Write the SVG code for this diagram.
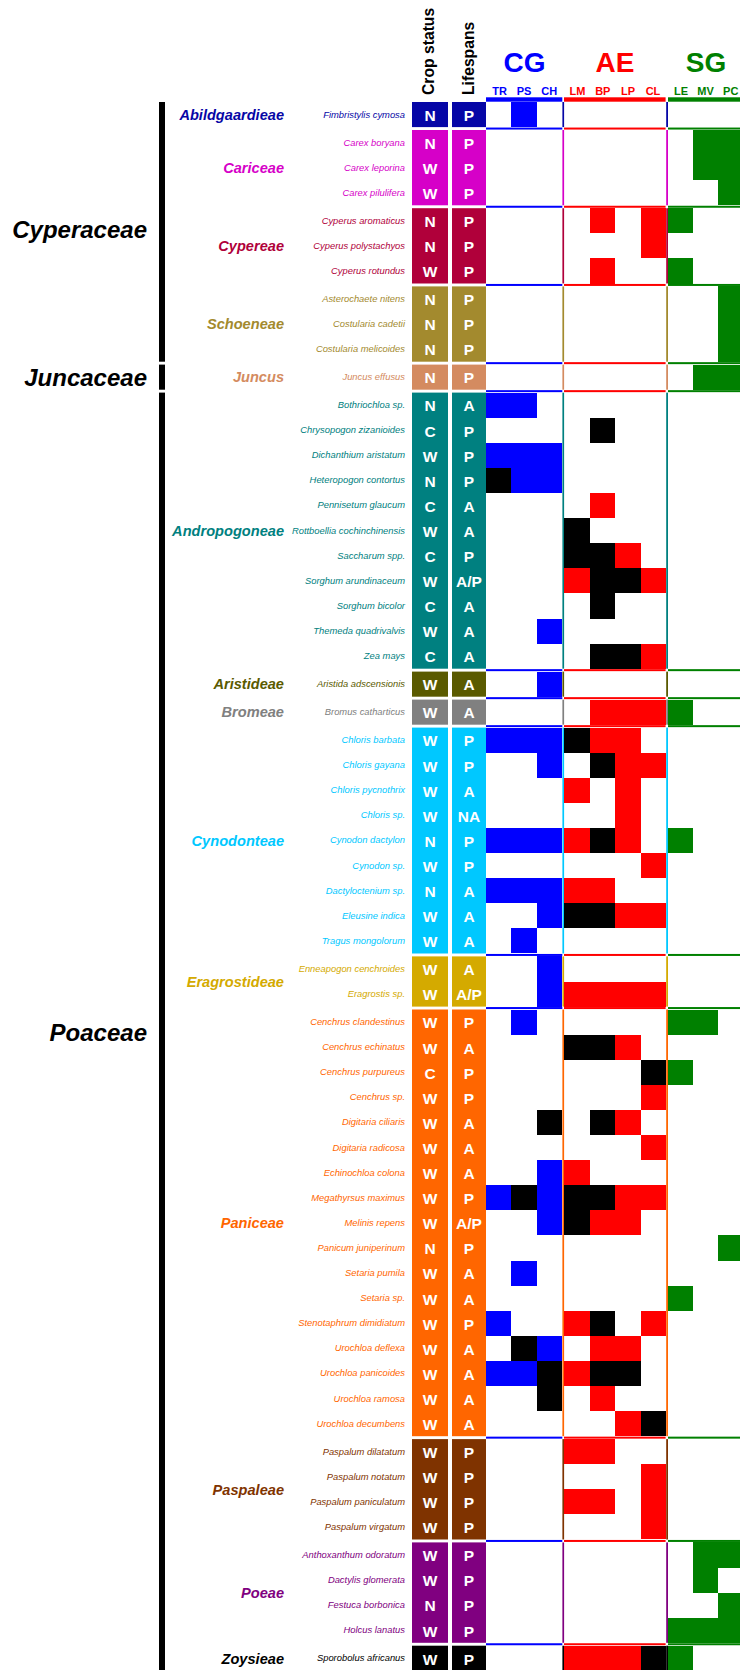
<svg xmlns="http://www.w3.org/2000/svg" width="740" height="1670" viewBox="0 0 740 1670">
<style>
text{font-family:"Liberation Sans",Arial,sans-serif}
.fam{font-size:24px;font-weight:bold;font-style:italic;text-anchor:end;fill:#000}
.tr{font-size:14.6px;font-weight:bold;font-style:italic;text-anchor:end}
.sp{font-size:9.4px;font-style:italic;text-anchor:end}
.lt{font-size:15.5px;font-weight:bold;text-anchor:middle;fill:#fff}
.col{font-size:15.7px;font-weight:bold;fill:#000}
.hd{font-size:28px;font-weight:bold;text-anchor:middle}
.sh{font-size:11px;font-weight:bold;text-anchor:middle}
.b{fill:#0000ff}.r{fill:#ff0000}.k{fill:#000000}.g{fill:#008000}
.b,.r,.k,.g{shape-rendering:crispEdges}
</style>
<defs>
<g id="sep"><rect x="486" y="0" width="76.3" height="2" fill="#0000ff"/><rect x="564" y="0" width="101.6" height="2" fill="#ff0000"/><rect x="668" y="0" width="72" height="2" fill="#008000"/></g>
</defs>
<rect width="740" height="1670" fill="#ffffff"/>

<g id="header">
<text class="col" transform="translate(433.5,95) rotate(-90)">Crop status</text>
<text class="col" transform="translate(473.5,95) rotate(-90)">Lifespans</text>
<text class="hd" x="524.5" y="71.7" fill="#0000ff">CG</text>
<text class="hd" x="615" y="71.7" fill="#ff0000">AE</text>
<text class="hd" x="706" y="71.7" fill="#008000">SG</text>
<g fill="#0000ff"><text class="sh" x="499.5" y="94.8">TR</text><text class="sh" x="524" y="94.8">PS</text><text class="sh" x="549.3" y="94.8">CH</text></g>
<g fill="#ff0000"><text class="sh" x="577.5" y="94.8">LM</text><text class="sh" x="602.8" y="94.8">BP</text><text class="sh" x="628" y="94.8">LP</text><text class="sh" x="653" y="94.8">CL</text></g>
<g fill="#008000"><text class="sh" x="681" y="94.8">LE</text><text class="sh" x="705.5" y="94.8">MV</text><text class="sh" x="730.7" y="94.8">PC</text></g>
<rect x="486" y="97.3" width="76.3" height="4.4" fill="#0000ff"/>
<rect x="564" y="97.3" width="101.6" height="4.4" fill="#ff0000"/>
<rect x="668" y="97.3" width="72" height="4.4" fill="#008000"/>
</g>

<g id="fam-cyperaceae"><rect x="159" y="102" width="6" height="259.7" fill="#000"/><text class="fam" x="147" y="238">Cyperaceae</text></g>
<g id="fam-juncaceae"><rect x="159" y="364.6" width="6" height="25.1" fill="#000"/><text class="fam" x="147" y="386">Juncaceae</text></g>
<g id="fam-poaceae"><rect x="159" y="392.6" width="6" height="1277.4" fill="#000"/><text class="fam" x="147" y="1040.5">Poaceae</text></g>

<g id="abildgaardieae" transform="translate(0,102)" fill="#0606a6">
<rect x="412" y="0" width="36" height="25.1"/><rect x="452" y="0" width="34" height="25.1"/>
<rect x="562.4" y="0" width="1.7" height="25.1"/><rect x="666.2" y="0" width="1.8" height="25.1"/>
<text class="tr" x="284" y="17.85">Abildgaardieae</text>
<text class="sp" x="405" y="15.5">Fimbristylis cymosa</text>
<text class="lt" x="430" y="18.9">N</text><text class="lt" x="469" y="18.9">P</text>
<rect class="b" x="511.3" y="0" width="25.3" height="25.1"/>
</g>

<g id="cariceae" transform="translate(0,130)" fill="#d600c8">
<rect x="412" y="0" width="36" height="75.3"/><rect x="452" y="0" width="34" height="75.3"/>
<rect x="562.4" y="0" width="1.7" height="75.3"/><rect x="666.2" y="0" width="1.8" height="75.3"/>
<text class="tr" x="284" y="42.95">Cariceae</text>
<text class="sp" x="405" y="15.5">Carex boryana</text>
<text class="sp" x="405" y="40.6">Carex leporina</text>
<text class="sp" x="405" y="65.7">Carex pilulifera</text>
<text class="lt" x="430" y="18.9">N</text><text class="lt" x="469" y="18.9">P</text>
<text class="lt" x="430" y="44">W</text><text class="lt" x="469" y="44">P</text>
<text class="lt" x="430" y="69.1">W</text><text class="lt" x="469" y="69.1">P</text>
<rect class="g" x="693" y="0" width="25" height="50.2"/>
<rect class="g" x="718" y="0" width="25" height="75.3"/>
</g>

<g id="cypereae" transform="translate(0,208.2)" fill="#b0003a">
<rect x="412" y="0" width="36" height="75.3"/><rect x="452" y="0" width="34" height="75.3"/>
<rect x="562.4" y="0" width="1.7" height="75.3"/><rect x="666.2" y="0" width="1.8" height="75.3"/>
<text class="tr" x="284" y="42.95">Cypereae</text>
<text class="sp" x="405" y="15.5">Cyperus aromaticus</text>
<text class="sp" x="405" y="40.6">Cyperus polystachyos</text>
<text class="sp" x="405" y="65.7">Cyperus rotundus</text>
<text class="lt" x="430" y="18.9">N</text><text class="lt" x="469" y="18.9">P</text>
<text class="lt" x="430" y="44">N</text><text class="lt" x="469" y="44">P</text>
<text class="lt" x="430" y="69.1">W</text><text class="lt" x="469" y="69.1">P</text>
<rect class="r" x="589.6" y="0" width="25.4" height="25.1"/>
<rect class="r" x="589.6" y="50.2" width="25.4" height="25.1"/>
<rect class="r" x="640.8" y="0" width="25.4" height="50.2"/>
<rect class="g" x="668" y="0" width="25" height="25.1"/>
<rect class="g" x="668" y="50.2" width="25" height="25.1"/>
</g>

<g id="schoeneae" transform="translate(0,286.4)" fill="#a38a2e">
<rect x="412" y="0" width="36" height="75.3"/><rect x="452" y="0" width="34" height="75.3"/>
<rect x="562.4" y="0" width="1.7" height="75.3"/><rect x="666.2" y="0" width="1.8" height="75.3"/>
<text class="tr" x="284" y="42.95">Schoeneae</text>
<text class="sp" x="405" y="15.5">Asterochaete nitens</text>
<text class="sp" x="405" y="40.6">Costularia cadetii</text>
<text class="sp" x="405" y="65.7">Costularia melicoides</text>
<text class="lt" x="430" y="18.9">N</text><text class="lt" x="469" y="18.9">P</text>
<text class="lt" x="430" y="44">N</text><text class="lt" x="469" y="44">P</text>
<text class="lt" x="430" y="69.1">N</text><text class="lt" x="469" y="69.1">P</text>
<rect class="g" x="718" y="0" width="25" height="75.3"/>
</g>

<g id="juncus" transform="translate(0,364.6)" fill="#d48b60">
<rect x="412" y="0" width="36" height="25.1"/><rect x="452" y="0" width="34" height="25.1"/>
<rect x="562.4" y="0" width="1.7" height="25.1"/><rect x="666.2" y="0" width="1.8" height="25.1"/>
<text class="tr" x="284" y="17.85">Juncus</text>
<text class="sp" x="405" y="15.5">Juncus effusus</text>
<text class="lt" x="430" y="18.9">N</text><text class="lt" x="469" y="18.9">P</text>
<rect class="g" x="693" y="0" width="50" height="25.1"/>
</g>

<g id="andropogoneae" transform="translate(0,392.6)" fill="#008080">
<rect x="412" y="0" width="36" height="276.1"/><rect x="452" y="0" width="34" height="276.1"/>
<rect x="562.4" y="0" width="1.7" height="276.1"/><rect x="666.2" y="0" width="1.8" height="276.1"/>
<text class="tr" x="284" y="143.35">Andropogoneae</text>
<text class="sp" x="405" y="15.5">Bothriochloa sp.</text>
<text class="sp" x="405" y="40.6">Chrysopogon zizanioides</text>
<text class="sp" x="405" y="65.7">Dichanthium aristatum</text>
<text class="sp" x="405" y="90.8">Heteropogon contortus</text>
<text class="sp" x="405" y="115.9">Pennisetum glaucum</text>
<text class="sp" x="405" y="141">Rottboellia cochinchinensis</text>
<text class="sp" x="405" y="166.1">Saccharum spp.</text>
<text class="sp" x="405" y="191.2">Sorghum arundinaceum</text>
<text class="sp" x="405" y="216.3">Sorghum bicolor</text>
<text class="sp" x="405" y="241.4">Themeda quadrivalvis</text>
<text class="sp" x="405" y="266.5">Zea mays</text>
<text class="lt" x="430" y="18.9">N</text><text class="lt" x="469" y="18.9">A</text>
<text class="lt" x="430" y="44">C</text><text class="lt" x="469" y="44">P</text>
<text class="lt" x="430" y="69.1">W</text><text class="lt" x="469" y="69.1">P</text>
<text class="lt" x="430" y="94.2">N</text><text class="lt" x="469" y="94.2">P</text>
<text class="lt" x="430" y="119.3">C</text><text class="lt" x="469" y="119.3">A</text>
<text class="lt" x="430" y="144.4">W</text><text class="lt" x="469" y="144.4">A</text>
<text class="lt" x="430" y="169.5">C</text><text class="lt" x="469" y="169.5">P</text>
<text class="lt" x="430" y="194.6">W</text><text class="lt" x="469" y="194.6">A/P</text>
<text class="lt" x="430" y="219.7">C</text><text class="lt" x="469" y="219.7">A</text>
<text class="lt" x="430" y="244.8">W</text><text class="lt" x="469" y="244.8">A</text>
<text class="lt" x="430" y="269.9">C</text><text class="lt" x="469" y="269.9">A</text>
<rect class="b" x="486" y="0" width="50.6" height="25.1"/>
<rect class="k" x="589.6" y="25.1" width="25.4" height="25.1"/>
<rect class="b" x="486" y="50.2" width="76.3" height="25.1"/>
<rect class="k" x="486" y="75.3" width="25.3" height="25.1"/>
<rect class="b" x="511.3" y="75.3" width="51" height="25.1"/>
<rect class="r" x="589.6" y="100.4" width="25.4" height="25.1"/>
<rect class="k" x="564" y="125.5" width="25.6" height="25.1"/>
<rect class="k" x="564" y="150.6" width="51" height="25.1"/>
<rect class="r" x="615" y="150.6" width="25.8" height="25.1"/>
<rect class="r" x="564" y="175.7" width="25.6" height="25.1"/>
<rect class="k" x="589.6" y="175.7" width="51.2" height="25.1"/>
<rect class="r" x="640.8" y="175.7" width="25.4" height="25.1"/>
<rect class="k" x="589.6" y="200.8" width="25.4" height="25.1"/>
<rect class="b" x="536.6" y="225.9" width="25.7" height="25.1"/>
<rect class="k" x="589.6" y="251" width="51.2" height="25.1"/>
<rect class="r" x="640.8" y="251" width="25.4" height="25.1"/>
</g>

<g id="aristideae" transform="translate(0,671.6)" fill="#5a5a00">
<rect x="412" y="0" width="36" height="25.1"/><rect x="452" y="0" width="34" height="25.1"/>
<rect x="562.4" y="0" width="1.7" height="25.1"/><rect x="666.2" y="0" width="1.8" height="25.1"/>
<text class="tr" x="284" y="17.85">Aristideae</text>
<text class="sp" x="405" y="15.5">Aristida adscensionis</text>
<text class="lt" x="430" y="18.9">W</text><text class="lt" x="469" y="18.9">A</text>
<rect class="b" x="536.6" y="0" width="25.7" height="25.1"/>
</g>

<g id="bromeae" transform="translate(0,699.6)" fill="#808080">
<rect x="412" y="0" width="36" height="25.1"/><rect x="452" y="0" width="34" height="25.1"/>
<rect x="562.4" y="0" width="1.7" height="25.1"/><rect x="666.2" y="0" width="1.8" height="25.1"/>
<text class="tr" x="284" y="17.85">Bromeae</text>
<text class="sp" x="405" y="15.5">Bromus catharticus</text>
<text class="lt" x="430" y="18.9">W</text><text class="lt" x="469" y="18.9">A</text>
<rect class="r" x="589.6" y="0" width="76.6" height="25.1"/>
<rect class="g" x="668" y="0" width="25" height="25.1"/>
</g>

<g id="cynodonteae" transform="translate(0,727.6)" fill="#00c8ff">
<rect x="412" y="0" width="36" height="225.9"/><rect x="452" y="0" width="34" height="225.9"/>
<rect x="562.4" y="0" width="1.7" height="225.9"/><rect x="666.2" y="0" width="1.8" height="225.9"/>
<text class="tr" x="284" y="118.25">Cynodonteae</text>
<text class="sp" x="405" y="15.5">Chloris barbata</text>
<text class="sp" x="405" y="40.6">Chloris gayana</text>
<text class="sp" x="405" y="65.7">Chloris pycnothrix</text>
<text class="sp" x="405" y="90.8">Chloris sp.</text>
<text class="sp" x="405" y="115.9">Cynodon dactylon</text>
<text class="sp" x="405" y="141">Cynodon sp.</text>
<text class="sp" x="405" y="166.1">Dactyloctenium sp.</text>
<text class="sp" x="405" y="191.2">Eleusine indica</text>
<text class="sp" x="405" y="216.3">Tragus mongolorum</text>
<text class="lt" x="430" y="18.9">W</text><text class="lt" x="469" y="18.9">P</text>
<text class="lt" x="430" y="44">W</text><text class="lt" x="469" y="44">P</text>
<text class="lt" x="430" y="69.1">W</text><text class="lt" x="469" y="69.1">A</text>
<text class="lt" x="430" y="94.2">W</text><text class="lt" x="469" y="94.2">NA</text>
<text class="lt" x="430" y="119.3">N</text><text class="lt" x="469" y="119.3">P</text>
<text class="lt" x="430" y="144.4">W</text><text class="lt" x="469" y="144.4">P</text>
<text class="lt" x="430" y="169.5">N</text><text class="lt" x="469" y="169.5">A</text>
<text class="lt" x="430" y="194.6">W</text><text class="lt" x="469" y="194.6">A</text>
<text class="lt" x="430" y="219.7">W</text><text class="lt" x="469" y="219.7">A</text>
<rect class="b" x="486" y="0" width="76.3" height="25.1"/>
<rect class="k" x="564" y="0" width="25.6" height="25.1"/>
<rect class="r" x="589.6" y="0" width="51.2" height="25.1"/>
<rect class="b" x="536.6" y="25.1" width="25.7" height="25.1"/>
<rect class="k" x="589.6" y="25.1" width="25.4" height="25.1"/>
<rect class="r" x="615" y="25.1" width="51.2" height="25.1"/>
<rect class="r" x="564" y="50.2" width="25.6" height="25.1"/>
<rect class="r" x="615" y="50.2" width="25.8" height="25.1"/>
<rect class="r" x="615" y="75.3" width="25.8" height="25.1"/>
<rect class="b" x="486" y="100.4" width="76.3" height="25.1"/>
<rect class="r" x="564" y="100.4" width="25.6" height="25.1"/>
<rect class="k" x="589.6" y="100.4" width="25.4" height="25.1"/>
<rect class="r" x="615" y="100.4" width="25.8" height="25.1"/>
<rect class="g" x="668" y="100.4" width="25" height="25.1"/>
<rect class="r" x="640.8" y="125.5" width="25.4" height="25.1"/>
<rect class="b" x="486" y="150.6" width="76.3" height="25.1"/>
<rect class="r" x="564" y="150.6" width="51" height="25.1"/>
<rect class="b" x="536.6" y="175.7" width="25.7" height="25.1"/>
<rect class="k" x="564" y="175.7" width="51" height="25.1"/>
<rect class="r" x="615" y="175.7" width="51.2" height="25.1"/>
<rect class="b" x="511.3" y="200.8" width="25.3" height="25.1"/>
</g>

<g id="eragrostideae" transform="translate(0,956.4)" fill="#d4aa00">
<rect x="412" y="0" width="36" height="50.2"/><rect x="452" y="0" width="34" height="50.2"/>
<rect x="562.4" y="0" width="1.7" height="50.2"/><rect x="666.2" y="0" width="1.8" height="50.2"/>
<text class="tr" x="284" y="30.4">Eragrostideae</text>
<text class="sp" x="405" y="15.5">Enneapogon cenchroides</text>
<text class="sp" x="405" y="40.6">Eragrostis sp.</text>
<text class="lt" x="430" y="18.9">W</text><text class="lt" x="469" y="18.9">A</text>
<text class="lt" x="430" y="44">W</text><text class="lt" x="469" y="44">A/P</text>
<rect class="b" x="536.6" y="0" width="25.7" height="50.2"/>
<rect class="r" x="564" y="25.1" width="102.2" height="25.1"/>
</g>

<g id="paniceae" transform="translate(0,1009.5)" fill="#ff6600">
<rect x="412" y="0" width="36" height="426.7"/><rect x="452" y="0" width="34" height="426.7"/>
<rect x="562.4" y="0" width="1.7" height="426.7"/><rect x="666.2" y="0" width="1.8" height="426.7"/>
<text class="tr" x="284" y="218.65">Paniceae</text>
<text class="sp" x="405" y="15.5">Cenchrus clandestinus</text>
<text class="sp" x="405" y="40.6">Cenchrus echinatus</text>
<text class="sp" x="405" y="65.7">Cenchrus purpureus</text>
<text class="sp" x="405" y="90.8">Cenchrus sp.</text>
<text class="sp" x="405" y="115.9">Digitaria ciliaris</text>
<text class="sp" x="405" y="141">Digitaria radicosa</text>
<text class="sp" x="405" y="166.1">Echinochloa colona</text>
<text class="sp" x="405" y="191.2">Megathyrsus maximus</text>
<text class="sp" x="405" y="216.3">Melinis repens</text>
<text class="sp" x="405" y="241.4">Panicum juniperinum</text>
<text class="sp" x="405" y="266.5">Setaria pumila</text>
<text class="sp" x="405" y="291.6">Setaria sp.</text>
<text class="sp" x="405" y="316.7">Stenotaphrum dimidiatum</text>
<text class="sp" x="405" y="341.8">Urochloa deflexa</text>
<text class="sp" x="405" y="366.9">Urochloa panicoides</text>
<text class="sp" x="405" y="392">Urochloa ramosa</text>
<text class="sp" x="405" y="417.1">Urochloa decumbens</text>
<text class="lt" x="430" y="18.9">W</text><text class="lt" x="469" y="18.9">P</text>
<text class="lt" x="430" y="44">W</text><text class="lt" x="469" y="44">A</text>
<text class="lt" x="430" y="69.1">C</text><text class="lt" x="469" y="69.1">P</text>
<text class="lt" x="430" y="94.2">W</text><text class="lt" x="469" y="94.2">P</text>
<text class="lt" x="430" y="119.3">W</text><text class="lt" x="469" y="119.3">A</text>
<text class="lt" x="430" y="144.4">W</text><text class="lt" x="469" y="144.4">A</text>
<text class="lt" x="430" y="169.5">W</text><text class="lt" x="469" y="169.5">A</text>
<text class="lt" x="430" y="194.6">W</text><text class="lt" x="469" y="194.6">P</text>
<text class="lt" x="430" y="219.7">W</text><text class="lt" x="469" y="219.7">A/P</text>
<text class="lt" x="430" y="244.8">N</text><text class="lt" x="469" y="244.8">P</text>
<text class="lt" x="430" y="269.9">W</text><text class="lt" x="469" y="269.9">A</text>
<text class="lt" x="430" y="295">W</text><text class="lt" x="469" y="295">A</text>
<text class="lt" x="430" y="320.1">W</text><text class="lt" x="469" y="320.1">P</text>
<text class="lt" x="430" y="345.2">W</text><text class="lt" x="469" y="345.2">A</text>
<text class="lt" x="430" y="370.3">W</text><text class="lt" x="469" y="370.3">A</text>
<text class="lt" x="430" y="395.4">W</text><text class="lt" x="469" y="395.4">A</text>
<text class="lt" x="430" y="420.5">W</text><text class="lt" x="469" y="420.5">A</text>
<rect class="b" x="511.3" y="0" width="25.3" height="25.1"/>
<rect class="g" x="668" y="0" width="50" height="25.1"/>
<rect class="k" x="564" y="25.1" width="51" height="25.1"/>
<rect class="r" x="615" y="25.1" width="25.8" height="25.1"/>
<rect class="k" x="640.8" y="50.2" width="25.4" height="25.1"/>
<rect class="g" x="668" y="50.2" width="25" height="25.1"/>
<rect class="r" x="640.8" y="75.3" width="25.4" height="25.1"/>
<rect class="k" x="536.6" y="100.4" width="25.7" height="25.1"/>
<rect class="k" x="589.6" y="100.4" width="25.4" height="25.1"/>
<rect class="r" x="615" y="100.4" width="25.8" height="25.1"/>
<rect class="r" x="640.8" y="125.5" width="25.4" height="25.1"/>
<rect class="b" x="536.6" y="150.6" width="25.7" height="75.3"/>
<rect class="r" x="564" y="150.6" width="25.6" height="25.1"/>
<rect class="b" x="486" y="175.7" width="25.3" height="25.1"/>
<rect class="k" x="511.3" y="175.7" width="25.3" height="25.1"/>
<rect class="k" x="564" y="175.7" width="51" height="25.1"/>
<rect class="r" x="615" y="175.7" width="51.2" height="25.1"/>
<rect class="k" x="564" y="200.8" width="25.6" height="25.1"/>
<rect class="r" x="589.6" y="200.8" width="51.2" height="25.1"/>
<rect class="g" x="718" y="225.9" width="25" height="25.1"/>
<rect class="b" x="511.3" y="251" width="25.3" height="25.1"/>
<rect class="g" x="668" y="276.1" width="25" height="25.1"/>
<rect class="b" x="486" y="301.2" width="25.3" height="25.1"/>
<rect class="r" x="564" y="301.2" width="25.6" height="25.1"/>
<rect class="k" x="589.6" y="301.2" width="25.4" height="25.1"/>
<rect class="r" x="640.8" y="301.2" width="25.4" height="25.1"/>
<rect class="k" x="511.3" y="326.3" width="25.3" height="25.1"/>
<rect class="b" x="536.6" y="326.3" width="25.7" height="25.1"/>
<rect class="r" x="589.6" y="326.3" width="51.2" height="25.1"/>
<rect class="b" x="486" y="351.4" width="50.6" height="25.1"/>
<rect class="k" x="536.6" y="351.4" width="25.7" height="50.2"/>
<rect class="r" x="564" y="351.4" width="25.6" height="25.1"/>
<rect class="k" x="589.6" y="351.4" width="51.2" height="25.1"/>
<rect class="r" x="589.6" y="376.5" width="25.4" height="25.1"/>
<rect class="r" x="615" y="401.6" width="25.8" height="25.1"/>
<rect class="k" x="640.8" y="401.6" width="25.4" height="25.1"/>
</g>

<g id="paspaleae" transform="translate(0,1439.1)" fill="#7f3300">
<rect x="412" y="0" width="36" height="100.4"/><rect x="452" y="0" width="34" height="100.4"/>
<rect x="562.4" y="0" width="1.7" height="100.4"/><rect x="666.2" y="0" width="1.8" height="100.4"/>
<text class="tr" x="284" y="55.5">Paspaleae</text>
<text class="sp" x="405" y="15.5">Paspalum dilatatum</text>
<text class="sp" x="405" y="40.6">Paspalum notatum</text>
<text class="sp" x="405" y="65.7">Paspalum paniculatum</text>
<text class="sp" x="405" y="90.8">Paspalum virgatum</text>
<text class="lt" x="430" y="18.9">W</text><text class="lt" x="469" y="18.9">P</text>
<text class="lt" x="430" y="44">W</text><text class="lt" x="469" y="44">P</text>
<text class="lt" x="430" y="69.1">W</text><text class="lt" x="469" y="69.1">P</text>
<text class="lt" x="430" y="94.2">W</text><text class="lt" x="469" y="94.2">P</text>
<rect class="r" x="564" y="0" width="51" height="25.1"/>
<rect class="r" x="640.8" y="25.1" width="25.4" height="75.3"/>
<rect class="r" x="564" y="50.2" width="51" height="25.1"/>
</g>

<g id="poeae" transform="translate(0,1542.4)" fill="#800080">
<rect x="412" y="0" width="36" height="100.4"/><rect x="452" y="0" width="34" height="100.4"/>
<rect x="562.4" y="0" width="1.7" height="100.4"/><rect x="666.2" y="0" width="1.8" height="100.4"/>
<text class="tr" x="284" y="55.5">Poeae</text>
<text class="sp" x="405" y="15.5">Anthoxanthum odoratum</text>
<text class="sp" x="405" y="40.6">Dactylis glomerata</text>
<text class="sp" x="405" y="65.7">Festuca borbonica</text>
<text class="sp" x="405" y="90.8">Holcus lanatus</text>
<text class="lt" x="430" y="18.9">W</text><text class="lt" x="469" y="18.9">P</text>
<text class="lt" x="430" y="44">W</text><text class="lt" x="469" y="44">P</text>
<text class="lt" x="430" y="69.1">N</text><text class="lt" x="469" y="69.1">P</text>
<text class="lt" x="430" y="94.2">W</text><text class="lt" x="469" y="94.2">P</text>
<rect class="g" x="693" y="0" width="50" height="25.1"/>
<rect class="g" x="693" y="25.1" width="25" height="25.1"/>
<rect class="g" x="718" y="50.2" width="25" height="25.1"/>
<rect class="g" x="668" y="75.3" width="75" height="25.1"/>
</g>

<g id="zoysieae" transform="translate(0,1645.7)" fill="#000000">
<rect x="412" y="0" width="36" height="25.1"/><rect x="452" y="0" width="34" height="25.1"/>
<rect x="562.4" y="0" width="1.7" height="25.1"/><rect x="666.2" y="0" width="1.8" height="25.1"/>
<text class="tr" x="284" y="17.85">Zoysieae</text>
<text class="sp" x="405" y="15.5">Sporobolus africanus</text>
<text class="lt" x="430" y="18.9">W</text><text class="lt" x="469" y="18.9">P</text>
<rect class="r" x="564" y="0" width="76.8" height="25.1"/>
<rect class="k" x="640.8" y="0" width="25.4" height="25.1"/>
<rect class="g" x="668" y="0" width="25" height="25.1"/>
</g>

<g id="grid-lines">
<use href="#sep" y="127.55"/>
<use href="#sep" y="205.75"/>
<use href="#sep" y="283.95"/>
<use href="#sep" y="362.15"/>
<use href="#sep" y="390.15"/>
<use href="#sep" y="669.15"/>
<use href="#sep" y="697.15"/>
<use href="#sep" y="725.15"/>
<use href="#sep" y="953.95"/>
<use href="#sep" y="1007.05"/>
<use href="#sep" y="1436.65"/>
<use href="#sep" y="1539.95"/>
<use href="#sep" y="1643.25"/>
</g>
</svg>
